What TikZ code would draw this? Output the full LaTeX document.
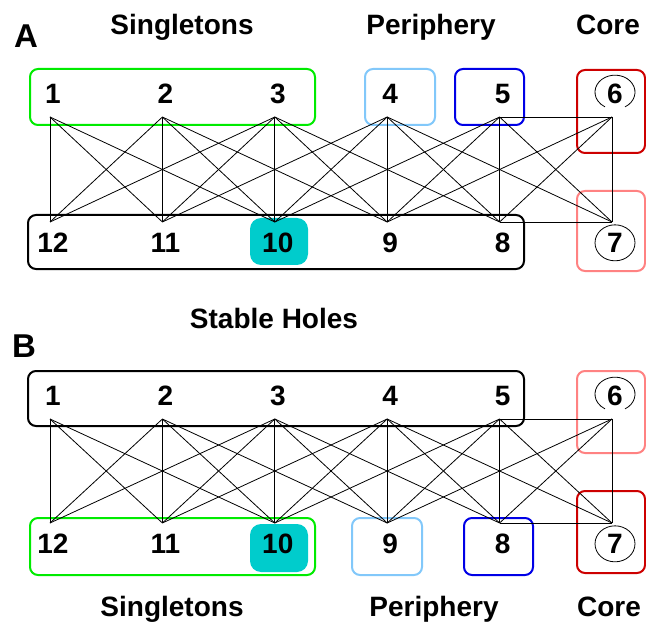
\documentclass[tikz,border=0pt]{standalone}
\usepackage{fontspec}
\setmainfont{Liberation Sans}
\usetikzlibrary{positioning}

\definecolor{singlegreen}{RGB}{0,235,0}
\definecolor{periblue}{RGB}{130,200,250}
\definecolor{deepblue}{RGB}{0,0,230}
\definecolor{corered}{RGB}{205,0,0}
\definecolor{corepink}{RGB}{255,130,130}
\definecolor{holecyan}{RGB}{0,204,204}

\tikzset{
  num/.style={font=\fontsize{28}{30}\selectfont\bfseries, inner sep=0pt, xshift=3pt},
  title/.style={font=\fontsize{28}{30}\selectfont\bfseries, inner sep=0pt, anchor=base},
  panel/.style={font=\fontsize{33}{35}\selectfont\bfseries, inner sep=0pt, anchor=base},
  edge/.style={black, line width=0.8pt},
  group/.style={rounded corners=8pt, line width=2pt},
  ring/.style={black, line width=0.8pt},
}

\begin{document}
\begin{tikzpicture}[x=1pt,y=-1pt]
\useasboundingbox (0,0) rectangle (646,623);

% titles
\node[panel] (pa) at (26,48) {A};
\node[panel] (pb) at (24,357) {B};
\node[title] (tsa) at (182,35) {Singletons};
\node[title] (tpa) at (431,35) {Periphery};
\node[title] (tca) at (608,35) {Core};
\node[title] (tsh) at (274,328) {Stable Holes};
\node[title] (tsb) at (172,616) {Singletons};
\node[title] (tpb) at (434,616) {Periphery};
\node[title] (tcb) at (609,616) {Core};

% groups, panel A
\fill[holecyan, rounded corners=11pt] (250,218) rectangle (308,265);
\draw[group, singlegreen] (30,69) rectangle (315,125);
\draw[group, periblue] (365,69) rectangle (435,125);
\draw[group, deepblue] (455,69) rectangle (524,125);
\draw[group, corered] (577,70) rectangle (645,153);
\draw[group, corepink] (577,191) rectangle (645,271);
\draw[group, black] (28,215) rectangle (524,269);

% groups, panel B
\fill[holecyan, rounded corners=11pt] (250,524) rectangle (308,572);
\draw[group, black] (28,371) rectangle (524,426);
\draw[group, corepink] (577,371) rectangle (645,453);
\draw[group, corered] (577,491) rectangle (645,573);
\draw[group, singlegreen] (30,518) rectangle (315,575);
\draw[group, periblue] (352,518) rectangle (422,575);
\draw[group, deepblue] (464,518) rectangle (533,575);

% end points of the links
\foreach \p/\yt/\yb in {a/117/222, b/419/523} {
  \foreach \i in {0,...,5} {
    \coordinate (\p t\i) at (50+112.4*\i, \yt);
    \coordinate (\p b\i) at (50+112.4*\i, \yb);
  }
}

% links
\foreach \p in {a,b} {
  \foreach \i in {0,...,5} {
    \foreach \j in {0,...,5} {
      \pgfmathtruncatemacro{\d}{abs(\i-\j)}
      \ifnum\d<3 \draw[edge] (\p t\i) -- (\p b\j); \fi
    }
  }
  \draw[edge] (\p t4) -- (\p t5);
  \draw[edge] (\p b4) -- (\p b5);
}

% numbers
\foreach \p in {a,b} {
  \foreach \i in {0,...,5} {
    \pgfmathtruncatemacro{\numt}{\i+1}
    \pgfmathtruncatemacro{\numb}{12-\i}
    \node[num, above=13pt of \p t\i] (\p n\numt) {\numt};
    \node[num, below=11pt of \p b\i] (\p n\numb) {\numb};
  }
  % rings round the core
  \draw[ring] ([shift={(10pt,-13pt)}]\p n6.center) arc[start angle=-60, end angle=240, x radius=20pt, y radius=17pt];
  \draw[ring] (\p n7.center) ellipse[x radius=20pt, y radius=18pt];
}
\end{tikzpicture}
\end{document}
